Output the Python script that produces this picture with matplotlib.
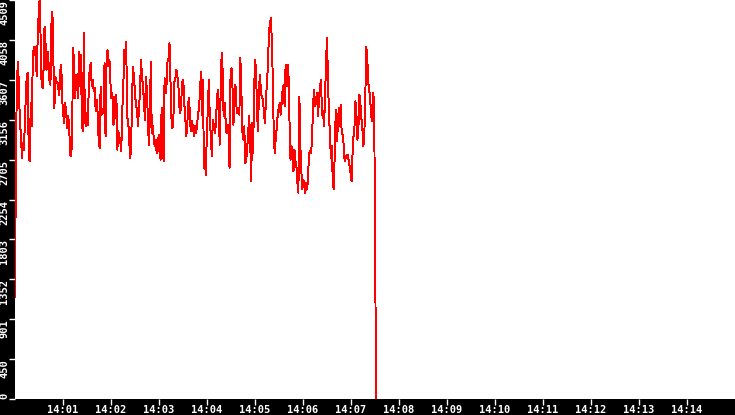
import matplotlib
matplotlib.use("Agg")
import matplotlib.pyplot as plt
import matplotlib.dates as mdates
import pandas as pd

# samples, one every ~1.23 s from 14:00:00
values = [1150,
    2856,3607,3814,3513,3100,3006,2724,2893,2818,3100,3438,3664,3682,2705,2687,3344,3081,3795,3983,3889,
    3983,3645,4058,4340,4509,4096,3570,3513,3720,4208,4021,3720,3927,3814,3607,3551,4227,4377,3833,3288,
    3645,3570,3588,3513,3438,3701,3776,3382,3213,3119,3344,3231,3062,3194,3100,2762,2743,2931,3964,3814,
    3401,3664,3570,3401,3927,3532,3889,3100,3025,4133,3156,3081,3231,3100,3532,3757,3795,3532,3607,3476,
    3513,3250,3382,3231,2931,2837,3532,3213,3231,3288,3795,
    2968,3795,3945,3757,3833,3570,3401,3457,3100,3137,3419,3438,2818,3025,2968,2912,2799,3269,3494,3945,
    3889,4039,3175,3156,2931,2724,2837,3438,3757,3607,3457,3307,3269,3081,3288,3457,3833,3664,3532,3382,
    3156,3645,3494,3175,2875,3156,3814,3006,3081,2950,2856,2931,2781,2837,2987,2762,2705,3288,3006,2687,
    3626,3457,3551,3814,3851,4021,3607,3175,3062,3194,3588,3626,3720,3645,3551,3307,3231,3382,3588,3607,
    3344,3194,2968,3062,3344,3401,3100,3025,3137,3062,2968,3081,
    3006,3081,3231,3269,3494,3701,3213,3607,2611,2668,2536,3044,3269,3607,3156,2968,2743,3156,3100,3006,
    3081,3325,3494,3382,2875,3457,3908,3720,3194,3344,3156,3006,3100,3006,2611,3626,3739,3532,3100,3457,
    3551,3307,3231,3269,3213,3851,3513,3025,2931,3081,2668,2705,2837,3025,3194,2931,2461,3119,2781,3494,
    3833,3720,3213,3025,3532,3664,3438,3419,3382,3231,3119,3382,3570,3757,4114,4246,4302,4058,3607,2968,
    2781,2950,3062,3213,3288,3344,3213,3344,3494,3551,3307,3776,
    3532,3776,3645,3119,2705,2856,2781,2574,2818,2687,2630,2442,2330,3419,2856,2574,2367,2480,2405,2330,
    2442,2367,2574,2781,2799,2781,2987,3344,3494,3307,3363,3457,3194,3419,3532,3607,3213,3250,3081,3363,
    3776,4077,3645,3231,3006,2724,2856,2424,2367,2837,3269,2912,3062,3288,3081,3325,3006,2987,2875,2687,
    2743,2724,2762,2705,2630,2555,2461,2762,2968,3081,3363,3213,2931,3062,3438,3344,3175,3062,2856,2987,
    3419,3983,3851,3570,3494,3382,3194,3137,3457,3344,
    1750, 0]

times = pd.date_range("2024-01-01 14:00:00", periods=len(values), freq="1230ms")

y_max = 4509
y_ticks = [0, 450, 901, 1352, 1803, 2254, 2705, 3156, 3607, 4058, 4509]

fig = plt.figure(figsize=(7.35, 4.15), dpi=100, facecolor="black")
ax = fig.add_axes([15/735, 16/415, 720/735, 399/415])
ax.set_facecolor("white")

ax.plot(times, values, color="red", lw=0.7, antialiased=False)

ax.set_xlim(pd.Timestamp("2024-01-01 14:00:00"), pd.Timestamp("2024-01-01 14:15:00"))
ax.set_ylim(0, y_max)

ax.xaxis.set_major_locator(mdates.MinuteLocator(byminute=range(1, 15)))
ax.xaxis.set_major_formatter(mdates.DateFormatter("%H:%M"))
ax.set_yticks(y_ticks)
ax.set_yticklabels([str(v) for v in y_ticks])

for s in ax.spines.values():
    s.set_visible(False)

ax.tick_params(axis="both", colors="white", length=4, width=1, pad=0.5,
               labelsize=7.5, labelfontfamily="DejaVu Sans Mono")
ax.tick_params(axis="y", pad=0)
for lbl in ax.get_xticklabels() + ax.get_yticklabels():
    lbl.set_fontweight("bold")
for lbl in ax.get_yticklabels():
    lbl.set_rotation(90)
    lbl.set_va("top")
ax.get_yticklabels()[0].set_va("bottom")

fig.savefig("out.png", dpi=100, facecolor="black")
